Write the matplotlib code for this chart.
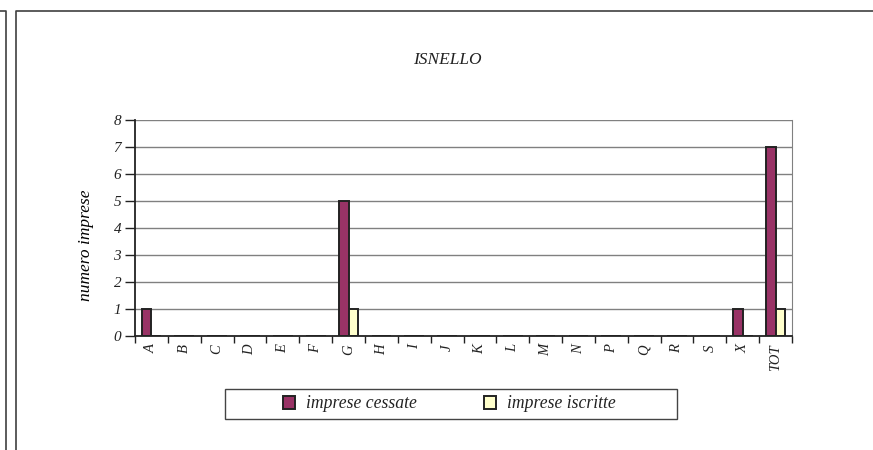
import matplotlib
matplotlib.use("Agg")
import matplotlib.pyplot as plt
import numpy as np
from matplotlib.lines import Line2D
from matplotlib.patches import Patch, Rectangle

# data
categories = ["A", "B", "C", "D", "E", "F", "G", "H", "I", "J",
              "K", "L", "M", "N", "P", "Q", "R", "S", "X", "TOT"]
cessate = [1, 0, 0, 0, 0, 0, 5, 0, 0, 0, 0, 0, 0, 0, 0, 0, 0, 0, 1, 7]
iscritte = [0, 0, 0, 0, 0, 0, 1, 0, 0, 0, 0, 0, 0, 0, 0, 0, 0, 0, 0, 1]
title = "ISNELLO"
ylabel = "numero imprese"
labels = ["imprese cessate", "imprese iscritte"]

plt.rcParams['font.family'] = ['Liberation Serif', 'DejaVu Serif']
plt.rcParams['font.style'] = 'italic'
plt.rcParams['text.color'] = '#222222'
plt.rcParams['xtick.labelcolor'] = '#222222'
plt.rcParams['ytick.labelcolor'] = '#222222'

W, H = 873, 450
fig = plt.figure(figsize=(W / 100, H / 100), dpi=100)

def px(x0, y0, x1, y1):
    # pixel box (top-left origin) -> figure fractions
    return [x0 / W, 1 - y1 / H, (x1 - x0) / W, (y1 - y0) / H]

ax = fig.add_axes(px(135, 120, 792, 336))

c1 = "#993366"
c2 = "#FFFFCC"
x = np.arange(len(categories)) + 0.5
bw = 0.3
ax.bar(x - bw / 2, cessate, bw, color=c1, edgecolor="#222222", linewidth=1.4, zorder=3)
ax.bar(x + bw / 2, iscritte, bw, color=c2, edgecolor="#222222", linewidth=1.4, zorder=3)

ax.set_xlim(0, len(categories))
ax.set_ylim(0, 8)
ax.set_yticks(range(0, 9))
ax.yaxis.grid(True, color="#808080", linewidth=1)
ax.set_axisbelow(True)

ax.set_xticks(x)
ax.set_xticklabels(categories, rotation=90, fontsize=10.5)
ax.set_xticks(np.arange(len(categories) + 1), minor=True)
ax.tick_params(axis="x", which="major", length=0, pad=6)
ax.tick_params(axis="x", which="minor", length=5, width=1, color="#222222", direction="out")
ax.tick_params(axis="y", length=7, width=1, color="#222222", labelsize=11, pad=3)

for s in ["left", "bottom"]:
    ax.spines[s].set_color("#222222")
    ax.spines[s].set_linewidth(1.3)
    ax.spines[s].set_zorder(4)
ax.spines["right"].set_color("#808080")
ax.spines["top"].set_visible(False)

ax.set_ylabel(ylabel, fontsize=12.5)
ax.yaxis.set_label_coords((94 - 135) / 657, (336 - 245) / 216)
fig.text(447 / W, 1 - 60 / H, title, ha="center", va="center", fontsize=12.5)

# legend box
fig.add_artist(Rectangle((225 / W, 1 - 419 / H), 452 / W, 30 / H,
                         transform=fig.transFigure, facecolor="white",
                         edgecolor="#444444", linewidth=1))
handles = [Patch(facecolor=c1, edgecolor="#222222", linewidth=1.4),
           Patch(facecolor=c2, edgecolor="#222222", linewidth=1.4)]
fig.legend(handles, labels, loc="center", ncol=2,
           bbox_to_anchor=(449 / W, 1 - 404 / H), fontsize=12.7,
           frameon=False, handlelength=0.7, handleheight=0.7,
           handletextpad=0.6, columnspacing=3.8)

# surrounding frame lines
lc = "#404040"
fig.add_artist(Line2D([0, 5.5 / W, 5.5 / W], [1 - 10.5 / H, 1 - 10.5 / H, 0],
                      transform=fig.transFigure, color=lc, lw=1.2))
fig.add_artist(Line2D([15.5 / W, 15.5 / W, 1], [0, 1 - 10.5 / H, 1 - 10.5 / H],
                      transform=fig.transFigure, color=lc, lw=1.2))

fig.savefig("out.png", dpi=100)
